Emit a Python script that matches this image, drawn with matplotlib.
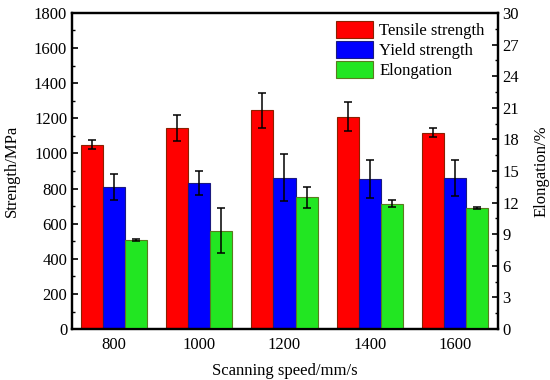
import numpy as np
import matplotlib
matplotlib.use("Agg")
import matplotlib.pyplot as plt
from matplotlib.ticker import MultipleLocator

plt.rcParams['font.family'] = ['Liberation Serif', 'DejaVu Serif']

speeds = ['800', '1000', '1200', '1400', '1600']
tensile = [1050, 1145, 1245, 1210, 1118]
tensile_err = [25, 75, 100, 80, 25]
yield_str = [808, 833, 862, 855, 860]
yield_err = [75, 68, 135, 110, 105]
elongation = [8.45, 9.35, 12.5, 11.9, 11.5]
elong_err = [0.1, 2.1, 1.0, 0.35, 0.1]

fig = plt.figure(figsize=(5.5, 3.8), dpi=100)
ax = fig.add_axes([0.131, 0.134, 0.774, 0.832])
ax2 = ax.twinx()

x = np.arange(len(speeds))
w = 0.26
err_kw = dict(ecolor='black', elinewidth=1.1, capsize=3, capthick=1.1)

ax.bar(x - w, tensile, w, yerr=tensile_err, color='#FF0000', edgecolor='#8B2000',
       linewidth=0.8, error_kw=err_kw, label='Tensile strength')
ax.bar(x, yield_str, w, yerr=yield_err, color='#0000FF', edgecolor='#1A1A80',
       linewidth=0.8, error_kw=err_kw, label='Yield strength')
ax2.bar(x + w, elongation, w, yerr=elong_err, color='#22E622', edgecolor='#5A7A20',
        linewidth=0.8, error_kw=err_kw, label='Elongation')

ax.set_xlim(-0.49, 4.5)
ax.set_ylim(0, 1800)
ax2.set_ylim(0, 30)
ax.set_xticks(x)
ax.set_xticklabels(speeds)
ax.yaxis.set_major_locator(MultipleLocator(200))
ax.yaxis.set_minor_locator(MultipleLocator(100))
ax2.yaxis.set_major_locator(MultipleLocator(3))
ax2.yaxis.set_minor_locator(MultipleLocator(1.5))

ax.tick_params(axis='x', length=0, labelsize=12, pad=6)
ax.tick_params(axis='y', which='major', direction='in', length=4, width=1.2, labelsize=12)
ax.tick_params(axis='y', which='minor', direction='in', length=2, width=1)
ax2.tick_params(axis='y', which='major', direction='in', length=4, width=1.2, labelsize=12)
ax2.tick_params(axis='y', which='minor', direction='in', length=2, width=1)

for a in (ax, ax2):
    for s in a.spines.values():
        s.set_linewidth(1.6)

ax.set_ylabel('Strength/MPa', fontsize=12, labelpad=10)
ax2.set_ylabel('Elongation/%', fontsize=12, labelpad=10)
ax.set_xlabel('Scanning speed/mm/s', fontsize=12, labelpad=7)

h1, l1 = ax.get_legend_handles_labels()
h2, l2 = ax2.get_legend_handles_labels()
ax2.legend(h1 + h2, l1 + l2, loc='upper right', frameon=False, fontsize=12,
           handlelength=2.2, handleheight=1.15, handletextpad=0.4,
           labelspacing=0.12, borderaxespad=0.0, bbox_to_anchor=(0.985, 0.995))

fig.savefig('out.png', dpi=100)
